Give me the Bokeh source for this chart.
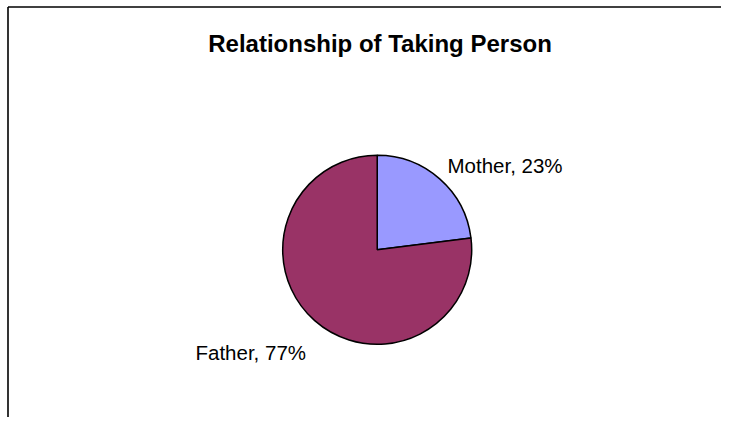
import numpy as np
from bokeh.plotting import figure
from bokeh.models import Range1d, ColumnDataSource
from bokeh.core.properties import value
from bokeh.embed import file_html
from bokeh.resources import INLINE

# ---- data ----
title_text = "Relationship of Taking Person"
categories = ["Mother", "Father"]
percents = [23, 77]
colors = ["#9999FF", "#993366"]

W, H = 721, 417
p = figure(width=W, height=H, output_backend="svg", toolbar_location=None,
           x_range=Range1d(0, W), y_range=Range1d(0, H), min_border=0,
           outline_line_color=None, background_fill_color="white",
           border_fill_color="white")
p.axis.visible = False
p.grid.visible = False

# chart area border (top and left visible)
top_y, left_x = H - 6.5, 7.5
p.segment(x0=[left_x, left_x], y0=[top_y, 0], x1=[W, left_x], y1=[top_y, top_y],
          line_color="black", line_width=1.6)

# pie
frac = np.array(percents, dtype=float) / sum(percents)
cum = np.concatenate([[0], np.cumsum(frac)])
start = np.pi / 2 - cum[:-1] * 2 * np.pi
end = np.pi / 2 - cum[1:] * 2 * np.pi
src = ColumnDataSource(dict(start=start, end=end, color=colors, cat=categories))
cx, cy, r = 376.7, H - 249.3, 94.5
p.wedge(x=cx, y=cy, radius=r, start_angle="start", end_angle="end",
        direction="clock", fill_color="color", line_color="black",
        line_width=1.5, source=src)

# title
p.text(x=[379.5], y=[H - 42.7], text=[title_text], text_font=value("Liberation Sans"),
       text_font_style="bold", text_font_size="24px", text_align="center",
       text_baseline="alphabetic", text_color="black")

# data labels
labels = [f"{c}, {v}%" for c, v in zip(categories, percents)]
p.text(x=[447], y=[H - 165], text=[labels[0]], text_font=value("Liberation Sans"),
       text_font_size="20.5px", text_align="left", text_baseline="alphabetic",
       text_color="black")
p.text(x=[195], y=[H - 352.3], text=[labels[1]], text_font=value("Liberation Sans"),
       text_font_size="20.5px", text_align="left", text_baseline="alphabetic",
       text_color="black")

open("out.html", "w").write(file_html(p, INLINE))
